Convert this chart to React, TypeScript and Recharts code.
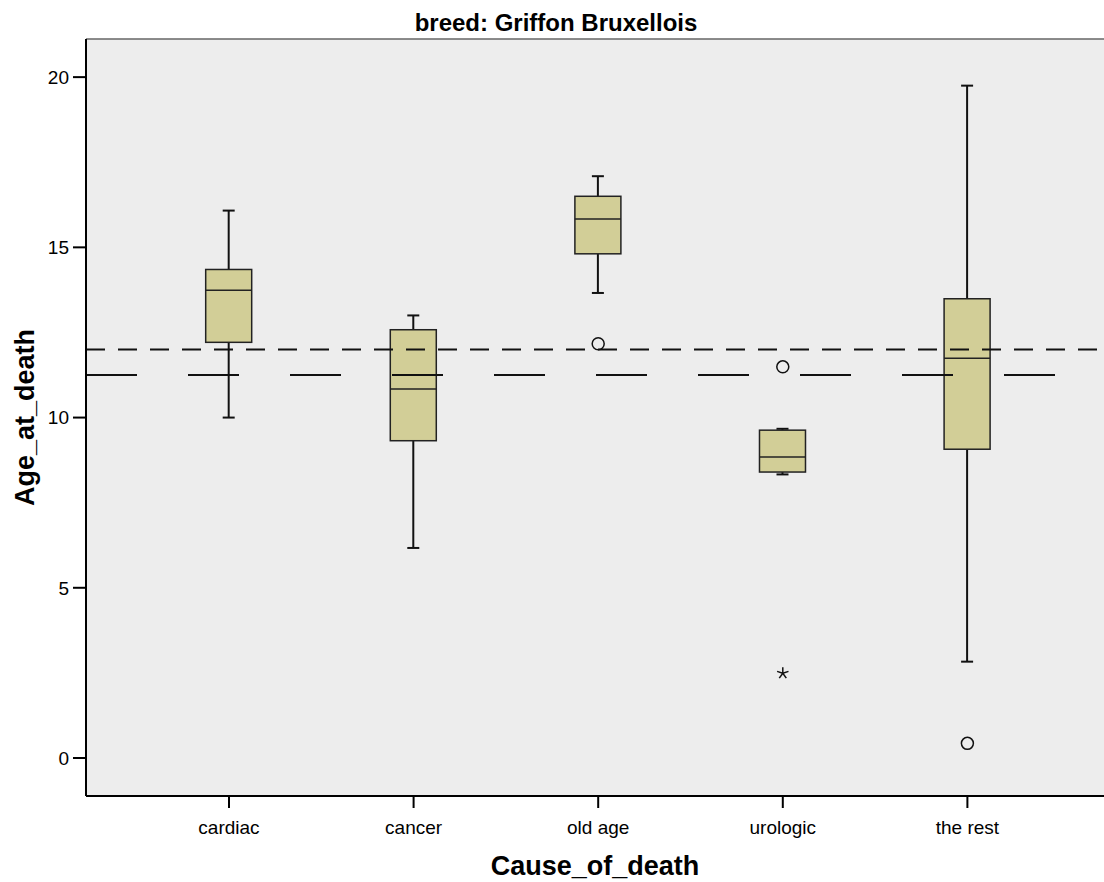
import React from "react";
import { ComposedChart, Bar, Scatter, XAxis, YAxis, CartesianGrid, ReferenceLine } from "recharts";

const causes = ["cardiac", "cancer", "old age", "urologic", "the rest"];
const whiskerLow = [10.0, 6.17, 13.66, 8.33, 2.83];
const lowerQuartile = [12.21, 9.32, 14.81, 8.4, 9.07];
const medians = [13.74, 10.84, 15.83, 8.84, 11.74];
const upperQuartile = [14.35, 12.58, 16.5, 9.63, 13.49];
const whiskerHigh = [16.08, 13.0, 17.09, 9.67, 19.75];

// circles = outliers, stars = extremes
const outlierCauses = ["old age", "urologic", "the rest"];
const outlierAges = [12.17, 11.49, 0.43];
const extremeCauses = ["urologic"];
const extremeAges = [2.49];

const dashedLineAge = 12.0;
const longDashLineAge = 11.25;
const yTicks = [0, 5, 10, 15, 20];

const FONT = "'Liberation Sans', Arial, sans-serif";
const BOX_FILL = "#D2CE97";
const INK = "#111";

const boxData = causes.map((cause, i) => ({
  idx: i,
  cause,
  lo: whiskerLow[i],
  q1: lowerQuartile[i],
  median: medians[i],
  q3: upperQuartile[i],
  hi: whiskerHigh[i],
}));

const outliers = outlierCauses.map((c, i) => ({ idx: causes.indexOf(c), age: outlierAges[i] }));
const extremes = extremeCauses.map((c, i) => ({ idx: causes.indexOf(c), age: extremeAges[i] }));

function BoxShape(props: any) {
  const { x, y, width, height, payload } = props;
  const top = Math.min(y, y + height);
  const h = Math.abs(height);
  const span = payload.hi - payload.lo;
  const py = (v: number) => top + ((payload.hi - v) * h) / span;
  const cx = x + width / 2;
  const cap = 6;
  return (
    <g>
      <line x1={cx} x2={cx} y1={py(payload.hi)} y2={py(payload.q3)} stroke={INK} strokeWidth={2} />
      <line x1={cx} x2={cx} y1={py(payload.q1)} y2={py(payload.lo)} stroke={INK} strokeWidth={2} />
      <line x1={cx - cap} x2={cx + cap} y1={py(payload.hi)} y2={py(payload.hi)} stroke={INK} strokeWidth={2} />
      <line x1={cx - cap} x2={cx + cap} y1={py(payload.lo)} y2={py(payload.lo)} stroke={INK} strokeWidth={2} />
      <rect
        x={x}
        y={py(payload.q3)}
        width={width}
        height={py(payload.q1) - py(payload.q3)}
        fill={BOX_FILL}
        stroke="#222"
        strokeWidth={1.5}
      />
      <line x1={x} x2={x + width} y1={py(payload.median)} y2={py(payload.median)} stroke="#222" strokeWidth={1.5} />
    </g>
  );
}

function Circle(props: any) {
  return <circle cx={props.cx} cy={props.cy} r={6} fill="none" stroke={INK} strokeWidth={1.5} />;
}

function Star(props: any) {
  const { cx, cy } = props;
  const r = 6;
  const arms = [-90, -18, 54, 126, 198].map((a) => {
    const t = (a * Math.PI) / 180;
    return <line key={a} x1={cx} y1={cy} x2={cx + r * Math.cos(t)} y2={cy + r * Math.sin(t)} stroke={INK} strokeWidth={1.5} />;
  });
  return <g>{arms}</g>;
}

function YTitle(props: any) {
  const vb = props.viewBox || { y: 39, height: 757 };
  const cy = vb.y + vb.height / 2;
  return (
    <text
      x={34}
      y={cy}
      transform={`rotate(-90, 34, ${cy})`}
      textAnchor="middle"
      fontFamily={FONT}
      fontSize={27}
      fontWeight="bold"
      fill="#000"
    >
      Age_at_death
    </text>
  );
}

function XTitle(props: any) {
  const vb = props.viewBox || { x: 86, width: 1018 };
  return (
    <text x={vb.x + vb.width / 2} y={875} textAnchor="middle" fontFamily={FONT} fontSize={27} fontWeight="bold" fill="#000">
      Cause_of_death
    </text>
  );
}

export default function App() {
  return (
    <div style={{ position: "absolute", left: 0, top: 0, width: 1104, height: 882, background: "#fff", fontFamily: FONT }}>
      <div
        style={{
          position: "absolute",
          left: 0,
          top: 11,
          width: 1112,
          textAlign: "center",
          fontSize: 24,
          lineHeight: "24px",
          fontWeight: "bold",
          color: "#000",
        }}
      >
        breed: Griffon Bruxellois
      </div>
      <ComposedChart width={1104} height={882} data={boxData} margin={{ top: 39, right: 0, left: 0, bottom: 0 }}>
        <CartesianGrid fill="#EDEDED" horizontal={false} vertical={false} stroke="none" />
        <XAxis
          type="number"
          dataKey="idx"
          domain={[-0.7746, 4.74]}
          ticks={[0, 1, 2, 3, 4]}
          tickFormatter={(v: number) => causes[v]}
          height={86}
          tickSize={12}
          tickMargin={13}
          axisLine={{ stroke: "#000", strokeWidth: 2 }}
          tickLine={{ stroke: "#000", strokeWidth: 2 }}
          tick={{ fill: "#000", fontSize: 19, fontFamily: FONT }}
          label={<XTitle />}
        />
        <YAxis
          type="number"
          domain={[-1.116, 21.12]}
          ticks={yTicks}
          width={86}
          tickSize={13}
          tickMargin={4}
          axisLine={{ stroke: "#000", strokeWidth: 2 }}
          tickLine={{ stroke: "#000", strokeWidth: 2 }}
          tick={{ fill: "#000", fontSize: 19, fontFamily: FONT }}
          label={<YTitle />}
        />
        <ReferenceLine y={21.12} stroke="#666" strokeWidth={1.5} />
        <Bar
          dataKey={(d: any) => [d.lo, d.hi]}
          barSize={46}
          shape={<BoxShape />}
          isAnimationActive={false}
        />
        <ReferenceLine y={dashedLineAge} stroke={INK} strokeWidth={2} strokeDasharray="19 13" />
        <ReferenceLine y={longDashLineAge} stroke={INK} strokeWidth={2} strokeDasharray="51 51" />
        <Scatter data={outliers} dataKey="age" shape={<Circle />} isAnimationActive={false} />
        <Scatter data={extremes} dataKey="age" shape={<Star />} isAnimationActive={false} />
      </ComposedChart>
    </div>
  );
}
